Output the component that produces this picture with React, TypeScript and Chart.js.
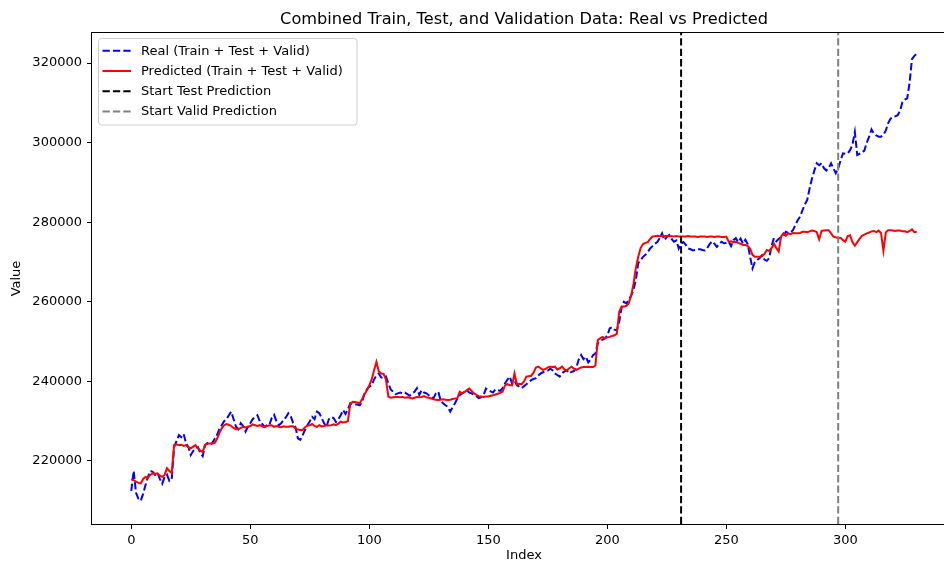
import { useEffect, useRef } from "react";
import { Chart, registerables } from "chart.js";

Chart.register(...registerables);

// Values in thousands, one per index 0..330
const realK = [
  212.5, 217.5, 212.0, 210.5, 210.0, 211.8, 214.0, 216.0, 217.5, 217.3,
  216.5, 217.0, 215.5, 214.3, 216.0, 216.6, 215.0, 215.5, 223.5, 225.0,
  226.5, 226.0, 226.8, 224.5, 223.5, 221.5, 222.5, 223.0, 223.5, 222.0,
  221.2, 224.0, 224.5, 224.0, 224.5, 225.5, 226.5, 228.0, 229.0, 230.0,
  230.5, 231.5, 232.4, 230.5, 228.6, 228.0, 229.5, 228.8, 227.4, 228.6,
  229.5, 230.5, 231.1, 231.5, 230.0, 229.3, 228.6, 229.0, 229.0, 230.8,
  231.6, 230.0, 229.0, 229.5, 230.3, 231.0, 232.0, 231.3, 229.5, 228.5,
  225.7, 225.3, 226.5, 227.8, 229.0, 230.0, 231.1, 230.5, 232.4, 232.0,
  230.8, 229.5, 228.6, 230.5, 231.0, 230.8, 229.8, 230.5, 231.5, 232.8,
  231.8, 233.0, 234.5, 234.3, 234.2, 234.2, 234.0, 235.0, 237.0, 238.0,
  238.7, 239.0, 240.5, 241.5, 242.0, 241.0, 240.8, 241.2, 239.5, 238.0,
  237.4, 236.8, 237.0, 237.2, 237.0, 237.2, 236.8, 236.4, 237.0, 237.4,
  238.3, 236.6, 237.8, 237.2, 237.0, 236.5, 236.0, 235.8, 237.0, 237.4,
  235.2, 234.5, 234.0, 233.6, 232.4, 233.5, 234.5, 235.7, 236.5, 237.0,
  237.4, 237.8, 237.2, 237.0, 236.6, 236.3, 235.8, 236.0, 236.5, 238.2,
  237.8, 237.5, 237.2, 238.0, 237.8, 237.6, 238.3, 239.5, 240.4, 241.2,
  239.5, 240.2, 239.0, 238.7, 238.3, 238.8, 239.3, 239.8, 240.3, 240.6,
  240.8, 241.5, 242.0, 242.3, 242.5, 242.7, 243.2, 242.8, 242.0, 241.6,
  241.2, 242.1, 242.5, 242.8, 242.0, 242.4, 242.6, 243.5, 245.5, 246.6,
  245.6, 246.2, 244.8, 245.5, 246.6, 247.0, 249.6, 250.0, 250.5, 250.8,
  251.5, 253.3, 253.6, 253.0, 252.8, 255.0, 258.5, 260.0, 259.6, 260.5,
  261.5, 263.0, 265.5, 269.7, 270.5, 271.3, 271.8, 272.5, 273.4, 274.0,
  274.6, 275.0, 276.0, 277.2, 275.5, 276.3, 276.8, 275.8, 275.1, 275.4,
  273.4, 274.6, 275.0, 274.3, 273.4, 273.2, 272.9, 273.0, 273.2, 273.2,
  273.0, 272.9, 273.5, 274.5, 275.2, 274.6, 273.8, 274.5, 275.1, 274.7,
  274.8, 275.1, 274.0, 275.5, 276.0, 275.0, 275.9, 274.6, 275.6, 274.5,
  271.3, 268.4, 270.0, 270.5, 271.0, 271.7, 270.6, 270.3, 271.0, 274.0,
  276.0, 275.2, 275.8, 276.3, 276.5, 277.6, 277.3, 277.4, 278.0, 279.3,
  280.5, 281.4, 283.0, 284.5, 285.6, 288.5, 291.0, 293.0, 294.8, 294.3,
  294.8, 293.6, 293.0, 293.6, 294.8, 293.5, 292.3, 293.5, 295.5, 297.3,
  297.2, 297.3, 298.1, 299.5, 302.7, 296.9, 297.2, 297.5, 298.0, 300.0,
  301.5, 303.3, 302.3, 301.8, 301.5, 301.5, 302.0, 303.0, 304.9, 306.0,
  306.5, 306.6, 306.9, 308.0, 310.2, 310.8, 311.1, 315.0, 321.0, 321.8,
  322.3,
];

const predK = [
  215.4, 215.2, 214.8, 214.5, 214.4, 215.5, 216.0, 215.8, 216.5, 216.9,
  216.8, 216.9, 216.3, 216.0, 216.5, 218.2, 217.5, 217.0, 224.0, 224.2,
  224.0, 224.1, 223.8, 224.0, 223.5, 223.2, 223.6, 224.0, 223.2, 222.6,
  222.3, 224.0, 224.3, 224.4, 224.4, 224.5, 225.5, 227.0, 228.2, 229.0,
  229.3, 229.1, 228.8, 228.3, 228.0, 228.0, 228.3, 228.6, 228.4, 228.6,
  228.8, 229.2, 229.0, 228.8, 229.0, 228.7, 228.5, 228.8, 228.9, 229.0,
  228.6, 228.8, 228.6, 228.5, 228.7, 228.6, 228.6, 228.7, 228.7, 228.2,
  227.9, 227.8, 227.8, 228.5, 228.9, 229.0, 229.3, 228.8, 228.6, 229.0,
  228.7, 228.8, 229.0, 228.9, 229.0, 229.2, 229.0, 229.4, 229.9, 229.7,
  229.8, 230.0, 234.3, 234.9, 234.8, 234.7, 234.5, 235.6, 236.8, 237.8,
  239.0, 240.5, 242.8, 244.9, 242.5, 242.0, 241.9, 240.5, 236.2, 235.9,
  236.0, 236.1, 236.1, 236.0, 236.1, 235.9, 236.0, 235.9, 235.7, 235.9,
  236.1, 236.0, 236.1, 236.3, 236.0, 235.9, 235.7, 235.5, 235.4, 235.3,
  235.4, 235.5, 235.4, 235.3, 235.4, 235.6, 235.7, 235.8, 237.4, 237.0,
  237.3, 237.8, 238.2, 237.6, 237.0, 236.6, 236.3, 236.2, 236.1, 236.2,
  236.2, 236.4, 236.5, 236.7, 236.9, 237.1, 237.4, 239.0, 239.3, 239.1,
  239.0, 242.0, 239.3, 239.4, 239.3, 240.0, 241.2, 241.3, 241.4, 242.2,
  243.5, 243.7, 243.3, 242.9, 243.1, 243.5, 243.7, 243.6, 243.7, 243.0,
  243.3, 243.7, 243.0, 242.8, 243.3, 243.7, 243.2, 242.9, 243.2, 243.5,
  243.6, 243.6, 243.7, 243.6, 243.6, 244.0, 250.4, 250.8, 251.2, 250.9,
  251.0, 251.2, 251.4, 251.6, 252.0, 257.5, 258.8, 258.8, 259.0, 259.6,
  261.5, 264.5, 268.5, 271.3, 273.5, 274.5, 274.8, 275.0, 275.8, 276.4,
  276.5, 276.6, 276.5, 276.6, 276.5, 276.6, 276.5, 276.5, 276.4, 276.5,
  276.4, 276.4, 276.4, 276.4, 276.5, 276.4, 276.4, 276.4, 276.3, 276.4,
  276.4, 276.4, 276.3, 276.4, 276.4, 276.3, 276.4, 276.4, 276.3, 276.3,
  276.4, 275.1, 275.2, 275.0, 275.1, 274.8, 274.6, 274.3, 274.3, 274.0,
  273.4, 271.8, 271.3, 271.3, 271.3, 271.5, 272.0, 273.0, 272.8, 273.5,
  274.6, 273.5, 272.6, 276.4, 277.2, 276.6, 277.2, 277.0, 277.3, 277.2,
  277.2, 277.3, 277.6, 277.6, 277.5, 277.7, 277.9, 277.8, 277.5, 275.7,
  277.8, 277.9, 278.0, 278.0, 277.2, 276.4, 276.2, 276.0, 276.1, 275.5,
  275.1, 276.5, 276.7, 275.0, 274.1, 275.0, 275.8, 276.6, 276.9, 277.2,
  277.4, 277.7, 277.8, 277.5, 277.9, 277.3, 272.8, 277.4, 278.0, 278.0,
  277.9, 277.8, 277.9, 277.9, 277.7, 277.7, 277.5, 277.8, 278.2, 277.5,
  277.6,
];

const testStart = 231;
const validStart = 297;

const xTicks = [0, 50, 100, 150, 200, 250, 300];
const yTicks = [220000, 240000, 260000, 280000, 300000, 320000];

const X_MIN = -16.5;
const X_MAX = 346.5;
const Y_MIN = 204170;
const Y_MAX = 327540;

const TITLE = "Combined Train, Test, and Validation Data: Real vs Predicted";
const FONT = "'DejaVu Sans', sans-serif";
const DASH = [7.3, 3.1];

const legendItems = [
  { label: "Real (Train + Test + Valid)", color: "#0000ff", dash: DASH },
  { label: "Predicted (Train + Test + Valid)", color: "#ff0000", dash: [] as number[] },
  { label: "Start Test Prediction", color: "#000000", dash: DASH },
  { label: "Start Valid Prediction", color: "#808080", dash: DASH },
];

export default function App() {
  const ref = useRef<HTMLCanvasElement>(null);

  useEffect(() => {
    if (!ref.current) return;
    const toPts = (arr: number[]) => arr.map((v, i) => ({ x: i, y: v * 1000 }));
    const vline = (x: number) => [
      { x, y: Y_MIN },
      { x, y: Y_MAX },
    ];

    const decor = {
      id: "decor",
      afterDraw(chart: any) {
        const { ctx, chartArea } = chart;
        const { left, top, right, bottom } = chartArea;
        ctx.save();
        // spines
        ctx.strokeStyle = "#000";
        ctx.lineWidth = 1;
        ctx.setLineDash([]);
        ctx.strokeRect(left - 0.5, top - 0.5, right - left + 1, bottom - top + 1);

        // title & axis labels
        const cx = (left + right) / 2;
        ctx.fillStyle = "#000";
        ctx.textAlign = "center";
        ctx.font = `16.2px ${FONT}`;
        ctx.textBaseline = "alphabetic";
        ctx.fillText(TITLE, cx, 24);
        ctx.font = `13px ${FONT}`;
        ctx.textBaseline = "middle";
        ctx.fillText("Index", cx, 556);
        ctx.save();
        ctx.translate(17, (top + bottom) / 2);
        ctx.rotate(-Math.PI / 2);
        ctx.fillText("Value", 0, 0);
        ctx.restore();

        // legend
        const lx = 98, ly = 38.5, lw = 258.5, lh = 86.5;
        ctx.beginPath();
        if ((ctx as any).roundRect) (ctx as any).roundRect(lx + 0.5, ly, lw, lh, 3);
        else ctx.rect(lx + 0.5, ly, lw, lh);
        ctx.fillStyle = "rgba(255,255,255,0.8)";
        ctx.fill();
        ctx.strokeStyle = "#cccccc";
        ctx.lineWidth = 1;
        ctx.stroke();
        ctx.font = `13px ${FONT}`;
        ctx.textAlign = "left";
        ctx.textBaseline = "middle";
        legendItems.forEach((it, k) => {
          const y = 50.8 + k * 20.2;
          ctx.beginPath();
          ctx.strokeStyle = it.color;
          ctx.lineWidth = 2;
          ctx.setLineDash(it.dash);
          ctx.moveTo(102.5, y);
          ctx.lineTo(131, y);
          ctx.stroke();
          ctx.setLineDash([]);
          ctx.fillStyle = "#000";
          ctx.fillText(it.label, 141, y + 0.5);
        });
        ctx.restore();
      },
    };

    const tickFont = { family: FONT, size: 13 };

    const chart = new Chart(ref.current, {
      type: "line",
      data: {
        datasets: [
          {
            label: "Real (Train + Test + Valid)",
            data: toPts(realK),
            borderColor: "#0000ff",
            borderWidth: 2,
            borderDash: DASH,
            pointRadius: 0,
            tension: 0,
            order: 4,
          },
          {
            label: "Predicted (Train + Test + Valid)",
            data: toPts(predK),
            borderColor: "#ff0000",
            borderWidth: 2,
            pointRadius: 0,
            tension: 0,
            order: 3,
          },
          {
            label: "Start Test Prediction",
            data: vline(testStart),
            borderColor: "#000000",
            borderWidth: 2,
            borderDash: DASH,
            pointRadius: 0,
            order: 2,
          },
          {
            label: "Start Valid Prediction",
            data: vline(validStart),
            borderColor: "#808080",
            borderWidth: 2,
            borderDash: DASH,
            pointRadius: 0,
            order: 1,
          },
        ],
      },
      options: {
        animation: false,
        responsive: false,
        layout: { padding: { top: 33, left: 0, right: 4, bottom: 0 } },
        plugins: {
          legend: { display: false },
          title: { display: false },
          tooltip: { enabled: false },
        },
        scales: {
          x: {
            type: "linear",
            min: X_MIN,
            max: X_MAX,
            afterBuildTicks: (s: any) => {
              s.ticks = xTicks.map((v) => ({ value: v }));
            },
            afterFit: (s: any) => {
              s.height = 39;
            },
            grid: {
              drawOnChartArea: false,
              drawTicks: true,
              tickLength: 5,
              tickColor: "#000",
              tickWidth: 1,
            },
            border: { display: false },
            ticks: {
              color: "#000",
              font: tickFont,
              padding: 4,
              maxRotation: 0,
              autoSkip: false,
              callback: (v: any) => String(v),
            },
          },
          y: {
            type: "linear",
            min: Y_MIN,
            max: Y_MAX,
            afterBuildTicks: (s: any) => {
              s.ticks = yTicks.map((v) => ({ value: v }));
            },
            afterFit: (s: any) => {
              s.width = 92;
            },
            grid: {
              drawOnChartArea: false,
              drawTicks: true,
              tickLength: 5,
              tickColor: "#000",
              tickWidth: 1,
            },
            border: { display: false },
            ticks: {
              color: "#000",
              font: tickFont,
              padding: 5,
              autoSkip: false,
              callback: (v: any) => String(v),
            },
          },
        },
      },
      plugins: [decor],
    } as any);

    return () => chart.destroy();
  }, []);

  return (
    <div
      style={{
        position: "fixed",
        left: 0,
        top: 0,
        width: 944,
        height: 563,
        overflow: "hidden",
        background: "#fff",
      }}
    >
      <canvas ref={ref} width={960} height={563} style={{ display: "block" }} />
    </div>
  );
}
